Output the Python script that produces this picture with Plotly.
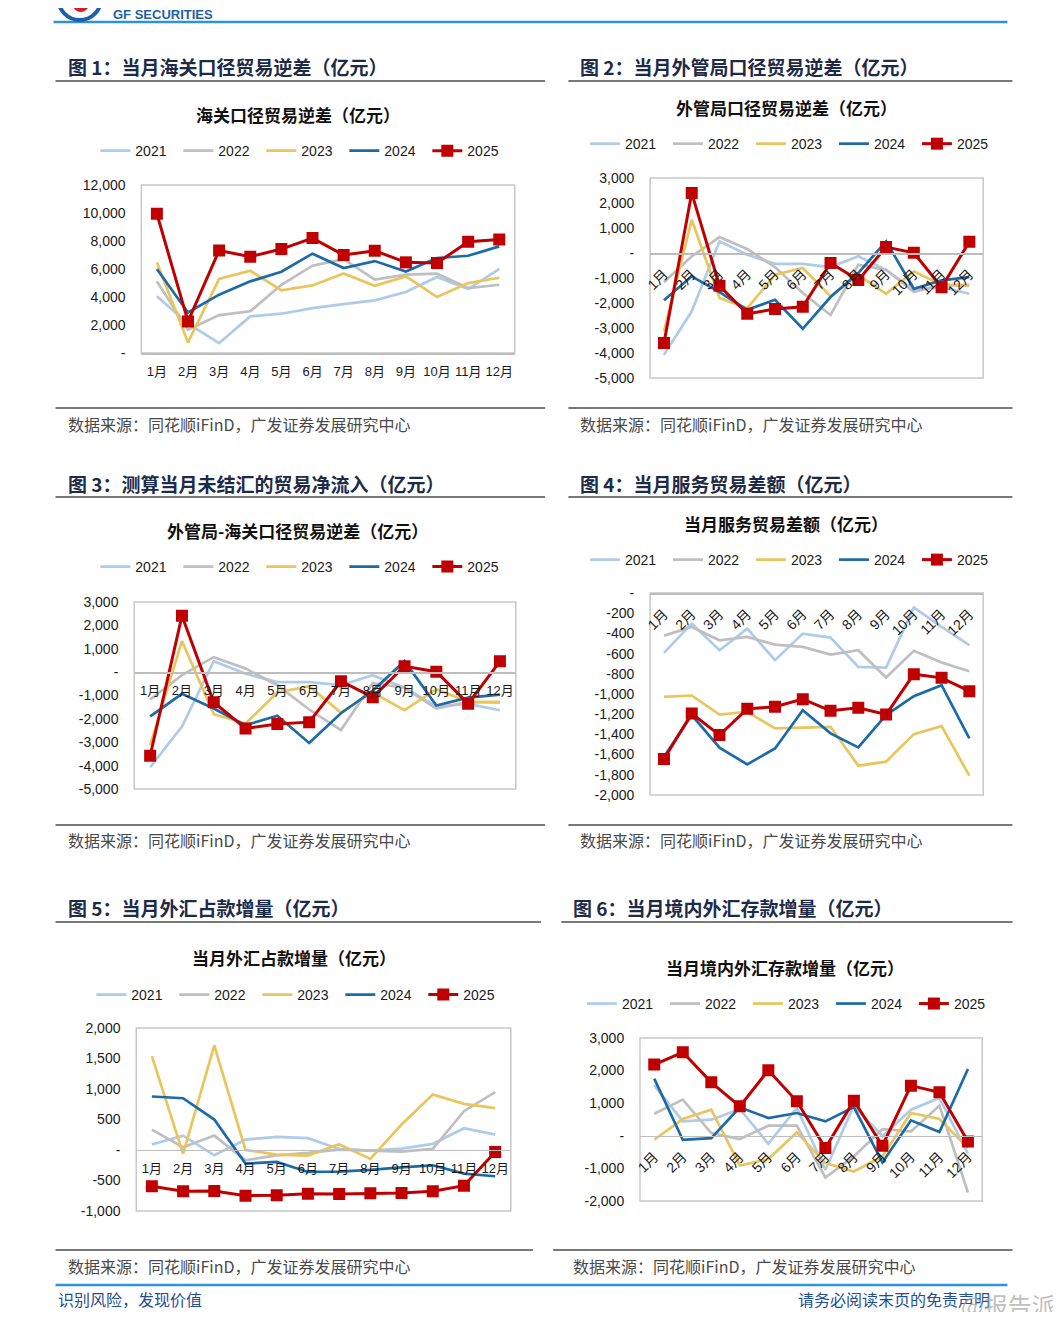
import plotly.graph_objects as go

# page is 1061x1320; the browser adds an 8px body margin, so the figure is sized to fit inside it
PAGE_W, PAGE_H = 1061, 1320
OFF = 8
W, H = PAGE_W - 2 * OFF, PAGE_H - 2 * OFF
# the returned picture shows the page slightly reduced inside an 8px border; compensate
BORDER = 8
SX, SY = (PAGE_W - 2 * BORDER) / PAGE_W, (PAGE_H - 2 * BORDER) / PAGE_H

months = ["1月", "2月", "3月", "4月", "5月", "6月", "7月", "8月", "9月", "10月", "11月", "12月"]
years = ["2021", "2022", "2023", "2024", "2025"]

# 图1 海关口径贸易逆差
customs_2021 = [4050, 2100, 710, 2620, 2810, 3210, 3500, 3760, 4360, 5430, 4570, 6020]
customs_2022 = [5120, 1670, 2710, 2980, 4880, 6240, 6710, 5240, 5600, 5670, 4640, 4880]
customs_2023 = [6480, 760, 5290, 5880, 4480, 4830, 5690, 4810, 5480, 4000, 5000, 5380]
customs_2024 = [6000, 2900, 4170, 5120, 5810, 7100, 6070, 6570, 5830, 6790, 6950, 7620]
customs_2025 = [9950, 2260, 7330, 6880, 7430, 8210, 7000, 7310, 6480, 6430, 7950, 8120]

# 图2 外管局口径贸易逆差
safe_2021 = [-4070, -2330, 470, -70, -430, -430, -560, -130, -670, -1470, -1360, -1630]
safe_2022 = [-1170, -130, 640, 160, -560, -1600, -2480, -470, -670, -1560, -1270, -1310]
safe_2023 = [-3130, 1330, -1800, -2200, -870, -600, -1730, -870, -1630, -730, -1270, -1270]
safe_2024 = [-1890, -930, -1560, -2270, -1870, -3030, -1760, -800, 470, -1430, -1090, -960]
safe_2025 = [-3600, 2400, -1310, -2430, -2240, -2150, -400, -1080, 240, 10, -1370, 450]

# 图3 外管局-海关口径贸易逆差
net_2021 = [-4070, -2330, 470, -70, -430, -430, -560, -130, -670, -1470, -1360, -1630]
net_2022 = [-1170, -130, 640, 160, -560, -1600, -2480, -470, -670, -1560, -1270, -1310]
net_2023 = [-3130, 1330, -1800, -2200, -870, -600, -1730, -870, -1630, -730, -1270, -1270]
net_2024 = [-1890, -930, -1560, -2270, -1870, -3030, -1760, -800, 470, -1430, -1090, -960]
net_2025 = [-3580, 2410, -1290, -2410, -2220, -2140, -390, -1070, 250, 20, -1350, 460]

# 图4 当月服务贸易差额
svc_2021 = [-593, -303, -567, -353, -665, -402, -441, -731, -738, -145, -336, -517]
svc_2022 = [-422, -336, -468, -435, -511, -534, -610, -567, -837, -573, -689, -774]
svc_2023 = [-1028, -1015, -1203, -1176, -1341, -1334, -1325, -1710, -1670, -1397, -1318, -1809]
svc_2024 = [-1621, -1209, -1532, -1697, -1539, -1160, -1390, -1529, -1209, -1021, -913, -1440]
svc_2025 = [-1644, -1193, -1407, -1147, -1127, -1051, -1166, -1137, -1203, -804, -840, -972]

# 图5 当月外汇占款增量
fxr_2021 = [88, 235, -88, 170, 213, 192, 16, -11, 22, 99, 356, 252]
fxr_2022 = [334, 44, 235, -170, -88, -49, 5, -16, -27, 16, 635, 947]
fxr_2023 = [1538, -66, 1713, 0, -77, -93, 93, -148, 416, 909, 755, 684]
fxr_2024 = [876, 848, 498, -224, -197, -361, -356, -328, -285, -252, -389, -432]
fxr_2025 = [-597, -679, -673, -750, -744, -717, -722, -712, -706, -679, -586, -33]

# 图6 当月境内外汇存款增量
dep_2021 = [1547, 440, 492, 820, -246, 850, -1045, 922, -20, 800, 1158, -553]
dep_2022 = [676, 1107, 82, -102, 307, 307, -1281, -635, 205, 133, 922, -1742]
dep_2023 = [-123, 512, 799, -912, -717, 102, -840, -1096, -635, 697, 512, -379]
dep_2024 = [1752, -123, -72, 871, 543, 697, 440, 881, -820, 471, 113, 2049]
dep_2025 = [2182, 2561, 1639, 902, 2008, 1055, -379, 1076, -307, 1537, 1332, -174]

# y-axis ticks
y1_vals = [0, 2000, 4000, 6000, 8000, 10000, 12000]
y1_text = ["-", "2,000", "4,000", "6,000", "8,000", "10,000", "12,000"]
y2_vals = [-5000, -4000, -3000, -2000, -1000, 0, 1000, 2000, 3000]
y2_text = ["-5,000", "-4,000", "-3,000", "-2,000", "-1,000", "-", "1,000", "2,000", "3,000"]
y4_vals = [-2000, -1800, -1600, -1400, -1200, -1000, -800, -600, -400, -200, 0]
y4_text = ["-2,000", "-1,800", "-1,600", "-1,400", "-1,200", "-1,000", "-800", "-600", "-400", "-200", "-"]
y5_vals = [-1000, -500, 0, 500, 1000, 1500, 2000]
y5_text = ["-1,000", "-500", "-", "500", "1,000", "1,500", "2,000"]
y6_vals = [-2000, -1000, 0, 1000, 2000, 3000]
y6_text = ["-2,000", "-1,000", "-", "1,000", "2,000", "3,000"]

section_titles = ["图 1：当月海关口径贸易逆差（亿元）", "图 2：当月外管局口径贸易逆差（亿元）",
                  "图 3：测算当月未结汇的贸易净流入（亿元）", "图 4：当月服务贸易差额（亿元）",
                  "图 5：当月外汇占款增量（亿元）", "图 6：当月境内外汇存款增量（亿元）"]
chart_titles = ["海关口径贸易逆差（亿元）", "外管局口径贸易逆差（亿元）", "外管局-海关口径贸易逆差（亿元）",
                "当月服务贸易差额（亿元）", "当月外汇占款增量（亿元）", "当月境内外汇存款增量（亿元）"]
source_text = "数据来源：同花顺iFinD，广发证券发展研究中心"

COLORS = ["#AFCBEA", "#BFBFBF", "#E9C55C", "#1C6BA8", "#C00000"]
CJK = "Liberation Sans, Arial, Noto Sans CJK SC"
TITLE_FONT = "Noto Sans CJK SC"


def fx(x):
    return ((x - BORDER) / SX - OFF) / W


def fy(y):
    return 1 - ((y - BORDER) / SY - OFF) / H


charts = [
    dict(box=(142, 512, 185, 353), yr=(0, 12000), tv=y1_vals, tt=y1_text, angle=0, xfree=False,
         series=[customs_2021, customs_2022, customs_2023, customs_2024, customs_2025], leg=(302, 151)),
    dict(box=(646, 976, 178, 378), yr=(-5000, 3000), tv=y2_vals, tt=y2_text, angle=-45, xfree=True,
         series=[safe_2021, safe_2022, safe_2023, safe_2024, safe_2025], leg=(787, 144)),
    dict(box=(135, 513, 602, 789), yr=(-5000, 3000), tv=y2_vals, tt=y2_text, angle=0, xfree=True,
         series=[net_2021, net_2022, net_2023, net_2024, net_2025], leg=(302, 567)),
    dict(box=(646, 976, 593, 795), yr=(-2000, 0), tv=y4_vals, tt=y4_text, angle=-45, xfree=True,
         series=[svc_2021, svc_2022, svc_2023, svc_2024, svc_2025], leg=(787, 560)),
    dict(box=(137, 508, 1028, 1211), yr=(-1000, 2000), tv=y5_vals, tt=y5_text, angle=0, xfree=True,
         series=[fxr_2021, fxr_2022, fxr_2023, fxr_2024, fxr_2025], leg=(298, 995)),
    dict(box=(636, 975, 1038, 1201), yr=(-2000, 3000), tv=y6_vals, tt=y6_text, angle=-45, xfree=True,
         series=[dep_2021, dep_2022, dep_2023, dep_2024, dep_2025], leg=(784, 1004)),
]

fig = go.Figure()
layout = dict(width=W, height=H, autosize=False, margin=dict(l=0, r=0, t=0, b=0, pad=0),
              paper_bgcolor="white", plot_bgcolor="white", showlegend=True,
              font=dict(family=CJK, color="#1a1a1a"))
shapes = []
annotations = []

for i, c in enumerate(charts, start=1):
    sfx = "" if i == 1 else str(i)
    x0, x1, y0, y1 = c["box"]
    ymin, ymax = c["yr"]
    dom_y = [fy(y1), fy(y0)]
    legname = "legend" if i == 1 else f"legend{i}"
    for k, (yr, vals) in enumerate(zip(years, c["series"])):
        is_last = k == 4
        fig.add_trace(go.Scatter(
            x=months, y=vals, name=yr,
            mode="lines+markers" if is_last else "lines",
            line=dict(color=COLORS[k], width=3 if is_last else 2.7),
            marker=dict(symbol="square", size=12, color=COLORS[k]) if is_last else None,
            xaxis=f"x{sfx}", yaxis=f"y{sfx}", legend=legname, hoverinfo="skip"))
    zero_pos = dom_y[0] + (0 - ymin) / (ymax - ymin) * (dom_y[1] - dom_y[0])
    xa = dict(domain=[fx(x0), fx(x1)], type="category", categoryorder="array", categoryarray=months,
              range=[-0.5, 11.5], showgrid=False, zeroline=False, showline=True, linecolor="#BDBDBD",
              linewidth=1.5, ticks="outside", ticklen=6, tickcolor="rgba(0,0,0,0)",
              tickangle=c["angle"], tickfont=dict(size=14 if c["angle"] else 13, family=CJK, color="#1a1a1a"),
              fixedrange=True)
    if c["xfree"]:
        xa.update(anchor="free", position=zero_pos, side="bottom")
    else:
        xa.update(anchor=f"y{sfx}")
    ya = dict(domain=dom_y, range=[ymin, ymax], tickvals=c["tv"], ticktext=c["tt"], showgrid=False,
              zeroline=False, showline=False, ticks="outside", ticklen=12, tickcolor="rgba(0,0,0,0)",
              tickfont=dict(size=14, family=CJK, color="#1a1a1a"), anchor=f"x{sfx}", fixedrange=True)
    layout[f"xaxis{sfx}"] = xa
    layout[f"yaxis{sfx}"] = ya
    shapes.append(dict(type="rect", xref=f"x{sfx} domain", yref=f"y{sfx} domain", x0=0, x1=1, y0=0, y1=1,
                       line=dict(color="#C8C8C8", width=1.5), layer="below"))
    layout[legname] = dict(orientation="h", x=fx(c["leg"][0]), y=fy(c["leg"][1]), xanchor="center",
                           yanchor="middle", font=dict(size=14, family=CJK, color="#1a1a1a"),
                           bgcolor="rgba(0,0,0,0)", entrywidth=38, entrywidthmode="pixels",
                           itemclick=False, itemdoubleclick=False)

# section titles, chart titles, source notes
sec_pos = [(67, 66), (575, 66), (67, 483), (575, 483), (67, 908), (568, 908)]
ttl_pos = [(297, 114), (781, 107), (297, 530), (781, 523), (293, 958), (780, 968)]
src_pos = [(67, 424), (575, 424), (67, 840), (575, 840), (67, 1266), (568, 1266)]
for t, (x, y) in zip(section_titles, sec_pos):
    annotations.append(dict(text=t, x=fx(x), y=fy(y), xref="paper", yref="paper", xanchor="left",
                            yanchor="middle", showarrow=False,
                            font=dict(size=19, family=TITLE_FONT, color="#1d2b48", weight="bold")))
for t, (x, y) in zip(chart_titles, ttl_pos):
    annotations.append(dict(text=t, x=fx(x), y=fy(y), xref="paper", yref="paper", xanchor="center",
                            yanchor="middle", showarrow=False,
                            font=dict(size=17, family=TITLE_FONT, color="#111111", weight="bold")))
for (x, y) in src_pos:
    annotations.append(dict(text=source_text, x=fx(x), y=fy(y), xref="paper", yref="paper", xanchor="left",
                            yanchor="middle", showarrow=False,
                            font=dict(size=16, family=TITLE_FONT, color="#4a4a4a")))

# separator lines
sep_lines = [(57, 542, 81), (565, 1005, 81), (57, 542, 408), (565, 1005, 408),
             (57, 542, 497), (565, 1005, 497), (57, 542, 825), (565, 1005, 825),
             (57, 538, 922), (558, 1005, 922), (57, 530, 1250), (550, 1005, 1250)]
for (a, b, y) in sep_lines:
    shapes.append(dict(type="line", xref="paper", yref="paper", x0=fx(a), x1=fx(b), y0=fy(y), y1=fy(y),
                       line=dict(color="#4d4d4d", width=1.5)))

# header & footer
shapes.append(dict(type="line", xref="paper", yref="paper", x0=fx(55), x1=fx(1000), y0=fy(22), y1=fy(22),
                   line=dict(color="#2E92D6", width=2.5)))
shapes.append(dict(type="line", xref="paper", yref="paper", x0=fx(57), x1=fx(1000), y0=fy(1285), y1=fy(1285),
                   line=dict(color="#2E92D6", width=2.5)))
shapes.append(dict(type="circle", xref="paper", yref="paper", x0=fx(60), x1=fx(102), y0=fy(20), y1=fy(-22),
                   line=dict(color="#1F5FA8", width=4), fillcolor="white"))
shapes.append(dict(type="circle", xref="paper", yref="paper", x0=fx(72), x1=fx(92), y0=fy(12), y1=fy(-16),
                   line=dict(color="#D21F26", width=0), fillcolor="#D21F26"))
annotations.append(dict(text="GF SECURITIES", x=fx(112), y=fy(14), xref="paper", yref="paper", xanchor="left",
                        yanchor="middle", showarrow=False,
                        font=dict(size=13, family="Liberation Sans", color="#1F5FA8", weight="bold")))
annotations.append(dict(text="广发证券", x=fx(112), y=fy(-8), xref="paper", yref="paper", xanchor="left",
                        yanchor="middle", showarrow=False,
                        font=dict(size=24, family=TITLE_FONT, color="#1F5FA8", weight="bold")))
annotations.append(dict(text="识别风险，发现价值", x=fx(57), y=fy(1299), xref="paper", yref="paper",
                        xanchor="left", yanchor="middle", showarrow=False,
                        font=dict(size=16, family=TITLE_FONT, color="#1F4E96")))
annotations.append(dict(text="请务必阅读末页的免责声明", x=fx(985), y=fy(1299), xref="paper", yref="paper",
                        xanchor="right", yanchor="middle", showarrow=False,
                        font=dict(size=16, family=TITLE_FONT, color="#1F4E96")))
annotations.append(dict(text="@报告派", x=fx(1050), y=fy(1305), xref="paper", yref="paper",
                        xanchor="right", yanchor="middle", showarrow=False,
                        font=dict(size=24, family=TITLE_FONT, color="rgba(170,170,170,0.75)")))

layout["shapes"] = shapes
layout["annotations"] = annotations
fig.update_layout(**layout)

fig.write_html("out.html", config={"displayModeBar": False, "staticPlot": True})
